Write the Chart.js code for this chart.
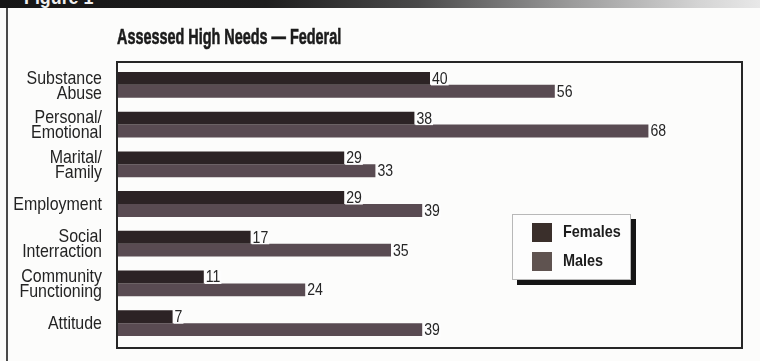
<!DOCTYPE html>
<html>
<head>
<meta charset="utf-8">
<script src="https://cdn.jsdelivr.net/npm/chart.js@4/dist/chart.umd.min.js"></script>
<style>
  html, body { margin: 0; padding: 0; background: #fcfcfb; }
  #wrap { position: relative; width: 760px; height: 361px; overflow: hidden; }
  #band {
    position: absolute; left: 0; top: 0; width: 760px; height: 8px; overflow: hidden;
    background: linear-gradient(to right, #161616 0%, #1e1e1e 35%, #4a4a4a 55%, #9a9a9a 75%, #d4d4d4 92%, #e8e8e8 100%);
  }
  #band span {
    position: absolute; left: 24px; top: -15px;
    font: bold 21px "Liberation Sans", sans-serif; color: #f0f0f0;
    transform: scaleX(0.85); transform-origin: left top;
  }
  #rule { position: absolute; left: 6px; top: 8px; width: 2px; height: 353px; background: #4a4a4a; }
  canvas { position: absolute; left: 0; top: 0; }
</style>
</head>
<body>
<div id="wrap">
  <canvas id="c" width="760" height="361"></canvas>
  <div id="band"><span>Figure 1</span></div>
  <div id="rule"></div>
</div>
<script>
// Assessed high needs by area, federal offenders (percent)
const categories = [
  ['Substance', 'Abuse'],
  ['Personal/', 'Emotional'],
  ['Marital/', 'Family'],
  'Employment',
  ['Social', 'Interraction'],
  ['Community', 'Functioning'],
  'Attitude'
];
const females = [40, 38, 29, 29, 17, 11, 7];
const males = [56, 68, 33, 39, 35, 24, 39];
const seriesNames = ['Females', 'Males'];
const chartTitle = 'Assessed High Needs \u2014 Federal';

const FONT = '"Liberation Sans", Arial, sans-serif';
const FEMALE_COLOR = '#2c2325';
const MALE_COLOR = '#594b52';

// Draw text squeezed horizontally to get a condensed face
function condensedText(ctx, txt, x, y, squeeze, stroke) {
  ctx.save();
  ctx.translate(x, y);
  ctx.scale(squeeze, 1);
  if (stroke) {
    ctx.lineWidth = stroke;
    ctx.strokeStyle = ctx.fillStyle;
    ctx.strokeText(txt, 0, 0);
  }
  ctx.fillText(txt, 0, 0);
  ctx.restore();
}

// Condensed bold heading above the plot frame
const titlePlugin = {
  id: 'condensedTitle',
  afterDraw(chart) {
    const ctx = chart.ctx;
    ctx.save();
    ctx.font = 'bold 22px ' + FONT;
    ctx.fillStyle = '#1b1b1b';
    ctx.textBaseline = 'alphabetic';
    ctx.textAlign = 'left';
    condensedText(ctx, chartTitle, 117, 44, 0.655, 0.6);
    ctx.restore();
  }
};

// Category names, right-aligned against the frame, placed by the y scale
const categoryLabels = {
  id: 'categoryLabels',
  afterDraw(chart) {
    const ctx = chart.ctx;
    const scale = chart.scales.y;
    ctx.save();
    ctx.font = '19px ' + FONT;
    ctx.fillStyle = '#232323';
    ctx.textAlign = 'right';
    ctx.textBaseline = 'middle';
    chart.data.labels.forEach((lab, i) => {
      const lines = Array.isArray(lab) ? lab : [lab];
      const cy = scale.getPixelForTick(i);
      lines.forEach((ln, k) => {
        const dy = (k - (lines.length - 1) / 2) * 15;
        condensedText(ctx, ln, 102, cy + dy + 1, 0.84);
      });
    });
    ctx.restore();
  }
};

// Box around the plotting area
const framePlugin = {
  id: 'plotFrame',
  afterDatasetsDraw(chart) {
    const { ctx, chartArea: a } = chart;
    ctx.save();
    ctx.strokeStyle = '#262626';
    ctx.lineWidth = 2;
    ctx.strokeRect(a.left - 1, a.top - 3, a.right - a.left + 1, a.bottom - a.top + 8);
    ctx.restore();
  }
};

// Value printed just past the end of each bar
const valueLabels = {
  id: 'valueLabels',
  afterDatasetsDraw(chart) {
    const ctx = chart.ctx;
    ctx.save();
    ctx.font = '16px ' + FONT;
    ctx.textBaseline = 'middle';
    ctx.textAlign = 'left';
    chart.data.datasets.forEach((ds, i) => {
      chart.getDatasetMeta(i).data.forEach((bar, j) => {
        const txt = String(ds.data[j]);
        const w = ctx.measureText(txt).width * 0.88;
        ctx.fillStyle = '#fdfdfd';
        ctx.fillRect(bar.x + 1, bar.y - 6, w + 2, 13);
        ctx.fillStyle = '#262626';
        condensedText(ctx, txt, bar.x + 2, bar.y + 1, 0.88);
      });
    });
    ctx.restore();
  }
};

// Boxed legend with a drop shadow, inside the plot
const boxedLegend = {
  id: 'boxedLegend',
  afterDraw(chart) {
    const ctx = chart.ctx;
    const x = 512, y = 214, w = 119, h = 66;
    ctx.save();
    ctx.fillStyle = '#151515';
    ctx.fillRect(x + 5, y + 5, w, h);
    ctx.fillStyle = '#fdfdfd';
    ctx.fillRect(x, y, w, h);
    ctx.strokeStyle = '#b8b8b8';
    ctx.lineWidth = 1;
    ctx.strokeRect(x + 0.5, y + 0.5, w - 1, h - 1);
    ctx.font = 'bold 17px ' + FONT;
    ctx.textBaseline = 'middle';
    ctx.textAlign = 'left';
    chart.data.datasets.forEach((ds, i) => {
      const sy = y + 9 + i * 29;
      ctx.fillStyle = ds.legendSwatch;
      ctx.fillRect(x + 20, sy, 20, 19);
      ctx.fillStyle = '#1c1c1c';
      condensedText(ctx, ds.label, x + 51, sy + 9, 0.85);
    });
    ctx.restore();
  }
};

new Chart(document.getElementById('c'), {
  type: 'bar',
  data: {
    labels: categories,
    datasets: [
      { label: seriesNames[0], data: females, backgroundColor: FEMALE_COLOR, legendSwatch: '#3a2f2b',
        barPercentage: 1, categoryPercentage: 0.65 },
      { label: seriesNames[1], data: males, backgroundColor: MALE_COLOR, legendSwatch: '#5f5350',
        barPercentage: 1, categoryPercentage: 0.65 }
    ]
  },
  options: {
    indexAxis: 'y',
    responsive: false,
    devicePixelRatio: 1,
    animation: false,
    layout: { padding: { top: 65, right: 18, bottom: 18, left: 0 } },
    plugins: {
      legend: { display: false },
      title: { display: false },
      tooltip: { enabled: false }
    },
    scales: {
      x: { min: 0, max: 80, display: false },
      y: {
        grid: { display: false, drawTicks: false },
        border: { display: false },
        ticks: { display: false },
        afterFit(scale) { scale.width = 118; }
      }
    }
  },
  plugins: [titlePlugin, categoryLabels, framePlugin, valueLabels, boxedLegend]
});
</script>
</body>
</html>
